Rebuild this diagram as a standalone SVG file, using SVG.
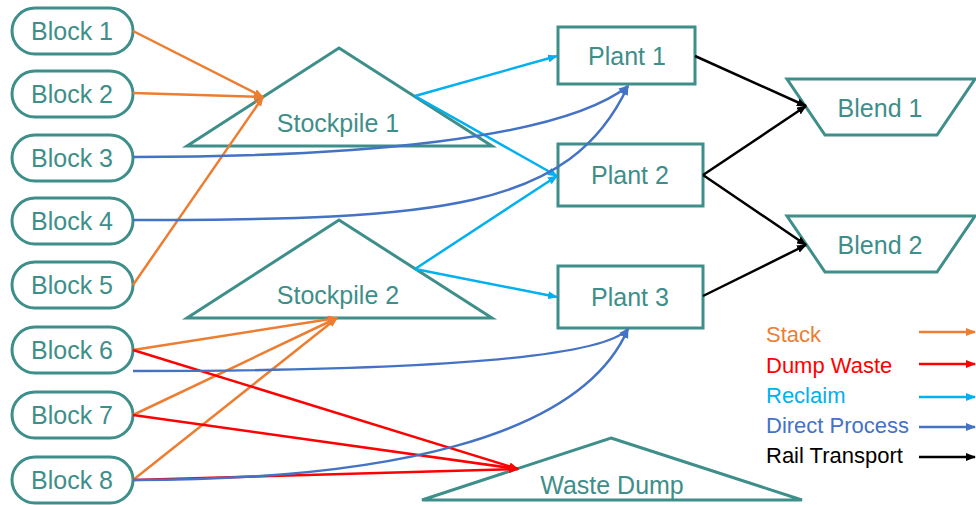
<svg xmlns="http://www.w3.org/2000/svg" width="976" height="505" viewBox="0 0 976 505">
<defs>
<style>
.node{fill:#fff;stroke:#3E8E89;stroke-width:3}
.lbl{font-family:"Liberation Sans",Arial,sans-serif;font-size:25px;fill:#3E8E89;text-anchor:middle}
.leg{font-family:"Liberation Sans",Arial,sans-serif;font-size:22px}
.c{fill:none;stroke-width:2.5}
.stack{stroke:#ED7D31}
.dump{stroke:#FF0000}
.recl{stroke:#00B0F0}
.dir{stroke:#4472C4}
.rail{stroke:#000}
</style>
<marker id="mS" viewBox="0 0 10 8" refX="9" refY="4" markerWidth="10" markerHeight="8" markerUnits="userSpaceOnUse" orient="auto"><path d="M0,0L10,4L0,8z" fill="#ED7D31"/></marker>
<marker id="mD" viewBox="0 0 10 8" refX="9" refY="4" markerWidth="10" markerHeight="8" markerUnits="userSpaceOnUse" orient="auto"><path d="M0,0L10,4L0,8z" fill="#FF0000"/></marker>
<marker id="mR" viewBox="0 0 10 8" refX="9" refY="4" markerWidth="10" markerHeight="8" markerUnits="userSpaceOnUse" orient="auto"><path d="M0,0L10,4L0,8z" fill="#00B0F0"/></marker>
<marker id="mP" viewBox="0 0 10 8" refX="9" refY="4" markerWidth="10" markerHeight="8" markerUnits="userSpaceOnUse" orient="auto"><path d="M0,0L10,4L0,8z" fill="#4472C4"/></marker>
<marker id="mT" viewBox="0 0 10 8" refX="9" refY="4" markerWidth="10" markerHeight="8" markerUnits="userSpaceOnUse" orient="auto"><path d="M0,0L10,4L0,8z" fill="#000"/></marker>
</defs>
<rect width="976" height="505" fill="#fff"/>

<g id="block1"><rect class="node" x="12" y="8" width="121" height="46" rx="23"/><text class="lbl" x="72" y="40">Block 1</text></g>
<g id="block2"><rect class="node" x="12" y="71" width="121" height="46" rx="23"/><text class="lbl" x="72" y="103">Block 2</text></g>
<g id="block3"><rect class="node" x="12" y="135" width="121" height="46" rx="23"/><text class="lbl" x="72" y="167">Block 3</text></g>
<g id="block4"><rect class="node" x="12" y="198" width="121" height="46" rx="23"/><text class="lbl" x="72" y="230">Block 4</text></g>
<g id="block5"><rect class="node" x="12" y="262" width="121" height="46" rx="23"/><text class="lbl" x="72" y="294">Block 5</text></g>
<g id="block6"><rect class="node" x="12" y="327" width="121" height="46" rx="23"/><text class="lbl" x="72" y="359">Block 6</text></g>
<g id="block7"><rect class="node" x="12" y="392" width="121" height="46" rx="23"/><text class="lbl" x="72" y="424">Block 7</text></g>
<g id="block8"><rect class="node" x="12" y="457" width="121" height="46" rx="23"/><text class="lbl" x="72" y="489">Block 8</text></g>

<g id="stockpile1"><polygon class="node" points="339,48 492,146 187,146"/><text class="lbl" x="338" y="132">Stockpile 1</text></g>
<g id="stockpile2"><polygon class="node" points="339,220 492,318 187,318"/><text class="lbl" x="338" y="304">Stockpile 2</text></g>
<g id="wastedump"><polygon class="node" points="611,438 802,500 422,500"/><text class="lbl" x="612" y="494">Waste Dump</text></g>

<g id="plant1"><rect class="node" x="558" y="27" width="137" height="57"/><text class="lbl" x="627" y="65">Plant 1</text></g>
<g id="plant2"><rect class="node" x="558" y="144" width="145" height="62"/><text class="lbl" x="630" y="184">Plant 2</text></g>
<g id="plant3"><rect class="node" x="558" y="266" width="145" height="62"/><text class="lbl" x="630" y="306">Plant 3</text></g>

<g id="blend1"><polygon class="node" points="787,79 975,79 937,135 825,135"/><text class="lbl" x="880" y="117">Blend 1</text></g>
<g id="blend2"><polygon class="node" points="787,216 975,216 937,272 825,272"/><text class="lbl" x="880" y="254">Blend 2</text></g>

<g id="connectors">
<path class="c stack" d="M133,31L263,97" marker-end="url(#mS)"/>
<path class="c stack" d="M133,93L263,97" marker-end="url(#mS)"/>
<path class="c stack" d="M133,285L263,97" marker-end="url(#mS)"/>
<path class="c stack" d="M133,350L337,318" marker-end="url(#mS)"/>
<path class="c stack" d="M133,415L337,318" marker-end="url(#mS)"/>
<path class="c stack" d="M133,480L337,318" marker-end="url(#mS)"/>
<path class="c dump" d="M133,350L518,469" marker-end="url(#mD)"/>
<path class="c dump" d="M133,415L518,469" marker-end="url(#mD)"/>
<path class="c dump" d="M133,480L518,469" marker-end="url(#mD)"/>
<path class="c recl" d="M415,96L557,56" marker-end="url(#mR)"/>
<path class="c recl" d="M415,96L557,176" marker-end="url(#mR)"/>
<path class="c recl" d="M415,269L557,176" marker-end="url(#mR)"/>
<path class="c recl" d="M415,269L557,297" marker-end="url(#mR)"/>
<path class="c dir" d="M133,157C350,157 560,140 628,86" marker-end="url(#mP)"/>
<path class="c dir" d="M133,220C440,220 570,210 628,86" marker-end="url(#mP)"/>
<path class="c dir" d="M133,371C400,371 600,360 628,329" marker-end="url(#mP)"/>
<path class="c dir" d="M133,480C380,480 580,440 628,329" marker-end="url(#mP)"/>
<path class="c rail" d="M695,56L806,106" marker-end="url(#mT)"/>
<path class="c rail" d="M703,175L806,106" marker-end="url(#mT)"/>
<path class="c rail" d="M703,175L806,245" marker-end="url(#mT)"/>
<path class="c rail" d="M703,296L806,245" marker-end="url(#mT)"/>
</g>

<g id="legend">
<text class="leg" x="766" y="342" fill="#ED7D31">Stack</text>
<text class="leg" x="766" y="373" fill="#FF0000">Dump Waste</text>
<text class="leg" x="766" y="403" fill="#00B0F0">Reclaim</text>
<text class="leg" x="766" y="433" fill="#4472C4">Direct Process</text>
<text class="leg" x="766" y="463" fill="#000">Rail Transport</text>
<path class="c stack" d="M919,332L975,332" marker-end="url(#mS)"/>
<path class="c dump" d="M919,364L975,364" marker-end="url(#mD)"/>
<path class="c recl" d="M919,397L975,397" marker-end="url(#mR)"/>
<path class="c dir" d="M919,427L975,427" marker-end="url(#mP)"/>
<path class="c rail" d="M919,457L975,457" marker-end="url(#mT)"/>
</g>
</svg>
